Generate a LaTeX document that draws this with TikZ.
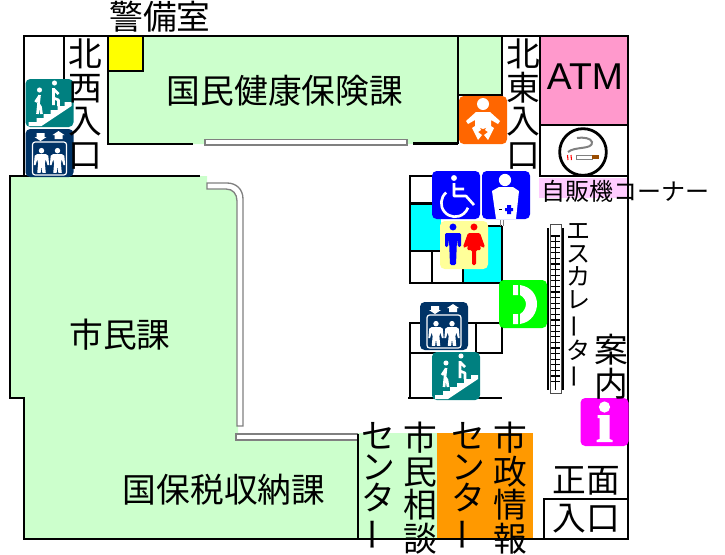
\documentclass[tikz,border=0pt]{standalone}
\usepackage{fontspec}
\usepackage{graphicx}
\setmainfont{Noto Sans CJK JP}
\newfontfamily\latinfont{Liberation Sans}
\newcommand{\bigjp}{\fontsize{25.3}{25.2}\selectfont}
\newcommand{\kanajp}{\fontsize{25.3}{23.5}\selectfont}
\newcommand{\smalljp}{\fontsize{18}{17.3}\selectfont}
\newcommand{\vbar}{\rotatebox[origin=c]{90}{ー}}
\definecolor{roomgreen}{HTML}{CCFFCC}
\definecolor{atmpink}{HTML}{FF99CC}
\definecolor{vendpink}{HTML}{FFCCFF}
\definecolor{wcyellow}{HTML}{FFFF99}
\definecolor{guardyellow}{HTML}{FFFF00}
\definecolor{wccyan}{HTML}{00FFFF}
\definecolor{stairteal}{HTML}{008080}
\definecolor{liftnavy}{HTML}{003366}
\definecolor{babyorange}{HTML}{FF6600}
\definecolor{infoorange}{HTML}{FF9900}
\definecolor{signblue}{HTML}{0000FF}
\definecolor{signred}{HTML}{FF0000}
\definecolor{telgreen}{HTML}{00FF00}
\definecolor{infomagenta}{HTML}{FF00FF}
\tikzset{
  icon/.style={fill=#1,rounded corners=3.5pt},
  stairicon/.pic={
    \fill[icon=stairteal] (-24,-24) rectangle (24,24);
    \fill[white] (-21,23) -- (-21,19) -- (-13,19) -- (-13,15) -- (-6,15) -- (-6,11) -- (1,11) -- (1,7) -- (8,7) -- (8,3) -- (15,3) -- (15,-1) -- (22,-1) -- (22,3) -- (-8,23) -- cycle;
    \fill[white] (-10,-13) circle[radius=1.9pt] (5,-20) circle[radius=1.9pt];
    \draw[white,line width=2pt,line join=round] (-10,-8) -- (-11,1) -- (-9,4) -- (-8,11) (-11,1) -- (-12,11) (-10,-7) -- (-14,-1);
    \draw[white,line width=2pt,line join=round] (4,-15) -- (4,-5) -- (9,-3) -- (9,3) (4,-5) -- (4,2) (4,-14) -- (9,-9);
  },
  liftman/.pic={
    \fill[white] (0,-11) circle[radius=2.4pt];
    \fill[white] (-5,-7) -- (5,-7) -- (8,-5) -- (9,6) -- (7,6) -- (5,-1) -- (4,4) -- (5,15) -- (1,15) -- (0,7) -- (-1,15) -- (-5,15) -- (-4,4) -- (-5,-1) -- (-7,6) -- (-9,6) -- (-8,-5) -- cycle;
  },
  lifticon/.pic={
    \fill[icon=liftnavy] (-24,-24) rectangle (24,24);
    \fill[white] (-13,-20) -- (-5,-20) -- (-5,-16) -- (-3,-16) -- (-9,-12) -- (-15,-16) -- (-13,-16) -- cycle;
    \fill[white] (5,-14) -- (13,-14) -- (13,-18) -- (15,-18) -- (9,-22) -- (3,-18) -- (5,-18) -- cycle;
    \draw[white,line width=0.9pt,rounded corners=2pt] (-17,-11) rectangle (17,22);
    \pic[scale=0.85] at (-8,7) {liftman};
    \pic[scale=0.85] at (8,7) {liftman};
  },
  babyicon/.pic={
    \fill[icon=babyorange] (-24,-24) rectangle (24,24);
    \fill[white] (0,-16) circle[radius=4.5pt];
    \fill[white] (-7,-8) -- (7,-8) -- (17,1) -- (15,4) -- (8,0) -- (8,6) -- (0,9) -- (-8,6) -- (-8,0) -- (-15,4) -- (-17,1) -- cycle;
    \fill[white] (-11,8) -- (-5,4) -- (-2,10) -- (-5,12) -- (-1,15) -- (-5,20) -- cycle;
    \fill[white] (11,8) -- (5,4) -- (2,10) -- (5,12) -- (1,15) -- (5,20) -- cycle;
  },
  wheelicon/.pic={
    \fill[icon=signblue] (-24,-24) rectangle (24,24);
    \fill[white] (-2,-17) circle[radius=2.2pt];
    \draw[white,line width=2pt,line join=round] (-2,-12) -- (-2,1) -- (10,1) -- (18,10) (-2,-6) -- (8,-6);
    \draw[white,line width=2pt] (-9.8,-2.5) arc[start angle=130,delta angle=210,radius=10.3pt];
  },
  aedicon/.pic={
    \fill[icon=signblue] (-24,-24) rectangle (24,24);
    \fill[white] (-1,-15) circle[radius=4.6pt];
    \fill[white] (-14,-4) -- (-7,-8) -- (7,-8) -- (13,-4) -- (10,24) -- (-10,24) -- cycle;
    \fill[signblue] (1,10) rectangle (5,19) (-1,13) rectangle (7,16);
    \draw[black,line width=0.7pt] (-7,14) -- (-4,14);
  },
  wcicon/.pic={
    \fill[icon=wcyellow] (-24,-24) rectangle (24,24);
    \fill[signblue] (-11,-18) circle[radius=2.6pt];
    \fill[signblue,rounded corners=1pt] (-19,-12) -- (-3,-12) -- (-3,2) -- (-6,2) -- (-7,-6) -- (-8,20) -- (-14,20) -- (-15,-6) -- (-16,2) -- (-19,2) -- cycle;
    \fill[signred] (10,-18) circle[radius=2.6pt];
    \fill[signred,rounded corners=1pt] (4,-12) -- (16,-12) -- (21,2) -- (19,3) -- (16,0) -- (17,5) -- (12,5) -- (12,20) -- (8,20) -- (8,5) -- (3,5) -- (4,0) -- (1,3) -- (-1,2) -- cycle;
  },
  telicon/.pic={
    \fill[icon=telgreen] (-24,-24) rectangle (24,24);
    \fill[white] (-10,-19) rectangle (-5,-9) (-10,10) rectangle (-5,20);
    \fill[white] (-3,-19) .. controls (9,-17) and (14,-8) .. (14,0) .. controls (14,8) and (9,18) .. (-3,20) -- (-3,10) .. controls (1,8) and (3,3) .. (3,0) .. controls (3,-3) and (1,-7) .. (-3,-9) -- cycle;
  },
  infoicon/.pic={
    \fill[icon=infomagenta] (-24,-24) rectangle (24,24);
    \fill[white] (0,-15) circle[radius=4.2pt];
    \fill[white] (-7,-7) -- (5,-7) -- (5,17) -- (8,18) -- (8,20) -- (-8,20) -- (-8,18) -- (-5,17) -- (-5,-4) -- (-7,-4) -- cycle;
  },
}
\begin{document}
\begin{tikzpicture}[x=0.75pt,y=-0.75pt,
    wall/.style={line width=2.2pt,black},
    thinwall/.style={line width=1.3pt,black},
    stripe/.style={fill=white,draw=black!50,line width=1pt},
    biglabel/.style={font=\bigjp,inner sep=0pt,align=center},
    kanalabel/.style={font=\kanajp,inner sep=0pt,align=center},
    smalllabel/.style={font=\smalljp,inner sep=0pt,align=center}]
    \useasboundingbox (0,0) rectangle (725,554);

    \coordinate (stairs1) at (49.5,103);
    \coordinate (lift1) at (49.5,153);
    \coordinate (baby) at (483,120);
    \coordinate (wheel) at (456,195);
    \coordinate (aed) at (506,195);
    \coordinate (wc) at (464,245);
    \coordinate (tel) at (523,304);
    \coordinate (lift2) at (444,326);
    \coordinate (stairs2) at (456,376);
    \coordinate (info) at (604.5,422);

    \fill[roomgreen] (108,36) -- (502,36) -- (502,95) -- (458,95) -- (458,144) -- (108,144) -- cycle;
    \fill[roomgreen] (10,176) -- (207,176) -- (207,189) -- (226,189) .. controls (233,189) and (238,194) .. (238,201) -- (238,433) -- (358,433) -- (358,539) -- (24,539) -- (24,398) -- (10,398) -- cycle;
    \fill[roomgreen] (358,433) rectangle (437,539);
    \fill[infoorange] (437,433) rectangle (533,539);
    \fill[guardyellow] (109,37) rectangle (143,71);
    \fill[atmpink] (540,36) rectangle (628,125);
    \fill[vendpink] (539,178) rectangle (628,198);
    \fill[wccyan] (411,204) rectangle (441,250);
    \fill[wccyan] (464,226) rectangle (501,283);

    \draw[wall] (24,176) -- (24,36) -- (628,36) -- (628,539) -- (24,539) -- (24,398) -- (10,398) -- (10,176) -- (200,176);
    \draw[wall] (64,36) -- (64,97);
    \draw[wall] (108,36) -- (108,144) -- (193,144);
    \draw[wall] (143,36) -- (143,71) -- (109,71);
    \draw[wall] (413,143.5) -- (458,143.5);
    \draw[wall] (458,36) -- (458,143.5);
    \draw[wall] (502,36) -- (502,95) -- (458,95);
    \draw[wall] (540,36) -- (540,176) -- (628,176);
    \draw[wall] (540,125) -- (628,125);
    \draw[stripe] (205,139.5) rectangle (407,145);

    \draw[stripe] (207,189) -- (226,189) .. controls (233,189) and (237,194) .. (237,201) -- (237,426) -- (243,426) -- (243,199) .. controls (243,189) and (236,183) .. (227,183) -- (207,183) -- cycle;
    \draw[stripe] (358,434) -- (236,434) -- (236,440) -- (358,440);
    \draw[thinwall] (358,434) -- (358,539);

    \draw[wall] (432,176) -- (410,176) -- (410,283) -- (502,283) -- (502,226);
    \draw[wall] (410,203.5) -- (432,203.5);
    \draw[wall] (410,251) -- (440,251);
    \draw[wall] (432,251) -- (432,283);
    \draw[wall] (463,268) -- (463,283);
    \draw[wall] (464,226) -- (502,226);
    \draw[gray,line width=0.6pt] (500,220) -- (500,226) (503,220) -- (503,226);

    \draw[wall] (420,323) -- (410,323) -- (410,398);
    \draw[wall] (408,398) -- (502,398);
    \draw[wall] (410,353) -- (502,353) -- (502,323) -- (468,323);
    \draw[wall] (476,323) -- (476,353);

    \draw[thinwall] (544,539) -- (544,499) -- (628,499);

    \draw[line width=2.2pt] (548,228) -- (548,390) (563,228) -- (563,390);
    \draw[black!70,fill=white,line width=0.7pt] (550,224) rectangle (561,393);
    \foreach \y in {236,241.6,...,384} {
        \draw[line width=0.8pt] (551,\y) -- (560,\y);
    }
    \draw[line width=0.7pt] (555.5,236) -- (555.5,390);

    \pic at (stairs1) {stairicon};
    \pic at (lift1) {lifticon};
    \pic at (baby) {babyicon};
    \pic at (wheel) {wheelicon};
    \pic at (aed) {aedicon};
    \pic at (wc) {wcicon};
    \pic at (tel) {telicon};
    \pic at (lift2) {lifticon};
    \pic at (stairs2) {stairicon};
    \pic at (info) {infoicon};

    \node[circle,draw,line width=2.1pt,fill=white,minimum size=35pt,inner sep=0pt] (nosmoke) at (583,152) {};
    \draw[gray,line width=1.5pt] (568,152) .. controls (575,146) and (593,150) .. (592,142) .. controls (591,138) and (583,137) .. (577,138);
    \draw[black!50,fill=white,line width=0.5pt] (576,155) rectangle (592,159);
    \fill[black!40!orange] (592,155) rectangle (599,159);
    \draw[signred,line width=0.8pt] (567.5,155) -- (568,160) (571,155) -- (571.5,160);

    \node[biglabel] (keibi) at (160,17) {警備室};
    \node[biglabel] (kenko) at (285,91) {国民健康保険課};
    \node[biglabel] (shimin) at (120,335) {市民課};
    \node[biglabel] (kokuho) at (224,490) {国保税収納課};
    \node[biglabel] (nw) at (85,104) {北\\西\\入\\口};
    \node[biglabel] (ne) at (523,104) {北\\東\\入\\口};
    \node[biglabel,font=\latinfont\fontsize{28}{28}\selectfont] (atm) at (585,77) {ATM};
    \node[smalllabel] (vending) at (625,191) {自販機コーナー};
    \node[smalllabel] (escalator) at (578,306) {エ\\ス\\カ\\レ\\\vbar\\タ\\\vbar};
    \node[biglabel] (guide) at (611,367) {案\\内};
    \node[kanalabel] (center1) at (378,487) {セ\\ン\\タ\\\vbar};
    \node[biglabel] (soudan) at (420,488) {市\\民\\相\\談};
    \node[kanalabel] (center2) at (468,487) {セ\\ン\\タ\\\vbar};
    \node[biglabel] (jouhou) at (510,488) {市\\政\\情\\報};
    \node[biglabel] (front) at (586,481) {正面};
    \node[biglabel] (entrance) at (586,519) {入口};
\end{tikzpicture}
\end{document}
